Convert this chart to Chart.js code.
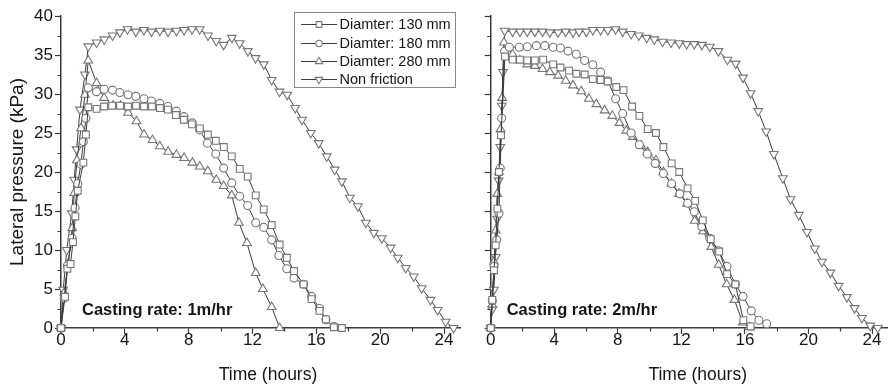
<!DOCTYPE html>
<html><head><meta charset="utf-8">
<script src="https://cdn.jsdelivr.net/npm/chart.js@4.4.1/dist/chart.umd.min.js"></script>
<style>
html,body{margin:0;padding:0;background:#fff;}
#wrap{position:relative;width:894px;height:387px;overflow:hidden;background:#fff;}
canvas{position:absolute;top:0;}
#c1{left:0;width:475px;height:387px;}
#c2{left:475px;width:419px;height:387px;}
</style></head><body>
<div id="wrap"><canvas id="c1" width="475" height="387"></canvas><canvas id="c2" width="419" height="387"></canvas></div>
<script>
// ---- tick labels ----
const xTicks = [0, 4, 8, 12, 16, 20, 24];
const xMinor = [2, 6, 10, 14, 18, 22];
const yTicks = [0, 5, 10, 15, 20, 25, 30, 35, 40];
const yMinor = [2.5, 7.5, 12.5, 17.5, 22.5, 27.5, 32.5, 37.5];
const seriesNames = ['Diamter: 130 mm', 'Diamter: 180 mm', 'Diamter: 280 mm', 'Non friction'];
const panelLabels = ['Casting rate: 1m/hr', 'Casting rate: 2m/hr'];

// ---- Casting rate 1 m/hr ----
const L130_t = [0,0.25,0.4,0.6,0.75,0.9,1.05,1.4,1.56,1.71,2.23,2.7,3.2,3.7,4.2,4.7,5.2,5.7,6.2,6.7,7.2,7.7,8.2,8.7,9.2,9.7,10.2,10.7,11.2,11.7,12.2,12.7,13.2,13.7,14.15,14.6,15.2,15.7,16.2,16.6,17.1,17.6];
const L130_p = [0,4,7.6,8.2,11,14.3,17.6,21.2,24.8,28.3,28.1,28.4,28.5,28.5,28.4,28.5,28.4,28.4,28.2,28.0,27.3,26.7,26.1,25.6,24.8,24.0,23.2,22.0,20.4,19.4,17.0,15.2,13.2,10.7,9.0,7.3,5.6,3.7,2.2,1.1,0.1,0];
const L180_t = [0,0.2,0.4,0.7,0.88,1.05,1.25,1.4,1.56,1.71,2.23,2.7,3.23,3.69,4.2,4.69,5.2,5.67,6.19,6.7,7.23,7.71,8.23,8.69,9.17,9.7,10.19,10.7,11.2,11.7,12.2,12.7,13.2,13.65,14.15,14.6,15.2,15.7,16.2,16.6,17.1];
const L180_p = [0,3.8,8,11.5,15.4,18.5,21,23.9,26.9,30.8,30.3,30.6,30.5,30.2,29.9,29.7,29.4,29.1,28.8,28.4,27.8,27.1,26.3,25.4,23.7,22.3,20.5,18.6,16.9,15.7,13.5,12.9,11.3,9.3,7.6,6.4,5.6,4.05,2.5,1.06,0.2];
const L280_t = [0,0.2,0.46,0.7,0.83,1.0,1.25,1.5,1.71,2.23,2.7,3.27,3.73,4.2,4.73,5.2,5.73,6.19,6.71,7.23,7.71,8.23,8.69,9.2,9.73,10.19,10.7,11.15,11.65,12.2,12.65,13.2,13.7];
const L280_p = [0,4.5,8.3,12.8,17.3,21.5,25.6,29.9,34.3,31.4,29.5,28.5,28.5,27.6,26.5,24.8,24.1,23.3,22.6,22.2,21.8,21.2,20.7,20.1,19.0,18.2,17.0,13.5,10.9,7.05,5.0,2.7,0];
const LNF_t = [0,0.14,0.36,0.67,0.83,0.98,1.19,1.5,1.71,2.23,2.71,3.23,3.69,4.17,4.69,5.19,5.67,6.19,6.71,7.23,7.71,8.21,8.69,9.21,9.73,10.19,10.71,11.19,11.71,12.19,12.71,13.2,13.69,14.17,14.67,15.1,15.65,16.15,16.65,17.15,17.6,18.1,18.6,19.1,19.6,20.1,20.65,21.1,21.6,22.1,22.6,23.15,23.6,24.1,24.6];
const LNF_p = [0,4.9,10,14.7,19,22.9,28,32.5,36.1,36.6,37.0,37.5,37.9,38.3,38.0,38.2,38.0,38.1,38.0,38.1,38.2,38.3,38.3,37.5,36.8,36.3,37.2,36.5,35.5,34.6,33.8,31.8,30.3,29.9,28.2,26.7,25.0,23.7,22.0,20.3,18.8,16.7,15.6,13.5,12.2,11.5,10.3,9.0,7.7,6.6,5.1,3.6,2.3,0.8,0];

// ---- Casting rate 2 m/hr ----
const R130_t = [0,0.1,0.21,0.31,0.42,0.52,0.65,0.9,1.38,1.84,2.3,2.78,3.3,3.93,4.39,4.93,5.39,5.91,6.43,6.92,7.37,7.9,8.36,8.9,9.36,9.88,10.4,10.87,11.39,11.87,12.39,12.87,13.35,13.85,14.38,14.88,15.4,15.9,16.36];
const R130_p = [0,3.6,7.4,10.6,15.3,20,24.7,34.8,34.4,34.4,34.3,34.3,34.4,33.8,33.4,33.0,32.6,32.5,31.9,31.8,31.6,30.9,30.5,28.4,27.2,25.5,25.0,23.2,21.1,20.0,17.9,16.3,13.8,11.4,9.8,6.9,5.6,1.0,0.2];
const R180_t = [0,0.1,0.21,0.38,0.52,0.6,0.69,0.88,1.17,1.8,2.3,2.88,3.4,3.93,4.39,4.87,5.39,5.91,6.43,6.92,7.37,7.86,8.31,8.84,9.36,9.85,10.35,10.87,11.39,11.91,12.4,12.81,13.29,13.79,14.33,14.87,15.4,15.88,16.4,16.88,17.37];
const R180_p = [0,3.5,7.9,11.3,14.7,20.5,26.9,35.5,36.0,36.0,36.05,36.2,36.2,36.0,35.9,35.5,35.1,34.3,33.75,32.8,31.7,29.4,27.5,25.0,23.5,22.3,21.1,19.8,18.5,17.2,16.0,14.9,13.0,11.5,9.9,7.9,5.6,4.05,2.2,1.0,0.55];
const R280_t = [0,0.1,0.21,0.31,0.41,0.52,0.62,0.72,0.83,1.38,1.84,2.3,2.78,3.26,3.72,4.24,4.72,5.18,5.7,6.18,6.65,7.17,7.65,8.1,8.53,8.94,9.47,9.88,10.4,10.87,11.38,11.85,12.36,12.84,13.37,13.88,14.35,14.85,15.34,15.86,16.3];
const R280_p = [0,3,8.5,12.5,17.2,20,25.5,29.5,36.6,35.1,34.3,33.8,33.6,33.2,32.8,32.35,31.7,31.1,30.35,29.4,28.7,27.9,27.2,26.3,25.3,24.5,23.4,22.55,21.5,20.0,18.5,17.2,15.95,13.75,12.4,10.4,8.1,5.6,3.6,0.7,0.1];
const RNF_t = [0,0.1,0.2,0.31,0.41,0.5,0.6,0.7,0.77,0.88,1.38,1.84,2.3,2.78,3.26,3.72,4.24,4.72,5.18,5.56,6.02,6.43,6.92,7.37,7.86,8.31,8.84,9.32,9.82,10.3,10.82,11.35,11.87,12.33,12.81,13.29,13.79,14.33,14.9,15.42,15.88,16.36,16.84,17.34,17.82,18.39,18.87,19.39,19.91,20.4,20.85,21.38,21.9,22.42,22.9,23.36,23.89,24.36];
const RNF_p = [0,2.4,4.9,9.1,14,18.9,23.2,28.5,32.8,38.1,38.0,38.0,38.0,38.0,38.0,37.9,37.9,38.0,37.9,38.0,38.0,38.2,38.2,38.2,38.3,38.0,37.7,37.5,37.2,37.0,36.7,36.6,36.5,36.4,36.4,36.3,36.05,35.5,34.4,33.9,32.1,30.1,27.8,25.2,22.3,19.2,16.5,14.5,12.3,10.2,8.5,7.1,5.4,3.96,2.55,1.28,0.3,0];

// ---- styles ----
const FONT = "'Liberation Sans', Arial, Helvetica, sans-serif";
const AXIS = '#3a3a3a';
const LINE = '#3c3c3c';
const MARK = '#767676';
const TEXT = '#151515';
const markers = [
  {pointStyle: 'rect', radius: 4.8, rotation: 0},
  {pointStyle: 'circle', radius: 4, rotation: 0},
  {pointStyle: 'triangle', radius: 5, rotation: 0},
  {pointStyle: 'triangle', radius: 5, rotation: 180}
];

function pts(t, p) { return t.map((v, i) => ({x: v, y: p[i]})); }

function makeDatasets(list) {
  return list.map((d, i) => ({
    label: seriesNames[i],
    data: pts(d[0], d[1]),
    borderColor: LINE,
    borderWidth: 1,
    pointStyle: markers[i].pointStyle,
    pointRadius: markers[i].radius,
    pointRotation: markers[i].rotation,
    pointBorderColor: MARK,
    pointBackgroundColor: '#ffffff',
    pointBorderWidth: 1.1,
    tension: 0,
    fill: false,
    clip: false
  }));
}

function drawMarker(ctx, m, x, y) {
  ctx.save();
  ctx.fillStyle = '#ffffff';
  ctx.strokeStyle = MARK;
  ctx.lineWidth = 1.1;
  if (Chart.helpers && Chart.helpers.drawPoint) {
    Chart.helpers.drawPoint(ctx, {pointStyle: m.pointStyle, rotation: m.rotation, radius: m.radius, borderWidth: 1.1}, x, y);
  }
  ctx.restore();
}

const minorTicks = {
  id: 'minorTicks',
  afterDraw(chart) {
    const ctx = chart.ctx, ca = chart.chartArea;
    const xs = chart.scales.x, ys = chart.scales.y;
    ctx.save();
    ctx.strokeStyle = AXIS;
    ctx.lineWidth = 1.2;
    ctx.beginPath();
    xMinor.forEach(v => { const px = Math.round(xs.getPixelForValue(v)) + 0.5; ctx.moveTo(px, ca.bottom); ctx.lineTo(px, ca.bottom + 3.5); });
    yMinor.forEach(v => { const py = Math.round(ys.getPixelForValue(v)) + 0.5; ctx.moveTo(ca.left, py); ctx.lineTo(ca.left - 3.5, py); });
    ctx.stroke();
    ctx.restore();
  }
};

const panelText = {
  id: 'panelText',
  afterDraw(chart, args, opts) {
    const ctx = chart.ctx, ca = chart.chartArea;
    ctx.save();
    ctx.fillStyle = TEXT;
    ctx.textBaseline = 'alphabetic';
    ctx.textAlign = 'left';
    ctx.font = 'bold 16.5px ' + FONT;
    ctx.fillText(opts.label, ca.left + opts.labelDx, 315);
    ctx.font = '17.5px ' + FONT;
    ctx.textAlign = 'center';
    ctx.textBaseline = 'middle';
    ctx.fillText('Time (hours)', ca.left + 207, 375);
    if (opts.legend) {
      const bx = 294, by = 12, bw = 161, bh = 75;
      ctx.strokeStyle = '#8a8a8a';
      ctx.lineWidth = 1;
      ctx.strokeRect(bx + 0.5, by + 0.5, bw, bh);
      ctx.font = '14.5px ' + FONT;
      ctx.textAlign = 'left';
      ctx.textBaseline = 'middle';
      const rows = [24, 43, 61, 79];
      seriesNames.forEach((n, i) => {
        const y = rows[i];
        ctx.strokeStyle = LINE; ctx.lineWidth = 1;
        ctx.beginPath(); ctx.moveTo(301, y + 0.5); ctx.lineTo(337, y + 0.5); ctx.stroke();
        drawMarker(ctx, {pointStyle: markers[i].pointStyle, rotation: markers[i].rotation, radius: markers[i].radius - 0.8}, 319, y + 0.5);
        ctx.fillStyle = TEXT;
        ctx.fillText(n, 339.5, y + 1);
      });
    }
    ctx.restore();
  }
};

function makeChart(canvas, datasets, cfg) {
  return new Chart(canvas, {
    type: 'line',
    data: {datasets: datasets},
    plugins: [minorTicks, panelText],
    options: {
      responsive: false,
      animation: false,
      devicePixelRatio: 1,
      layout: {padding: {left: 0, right: cfg.padRight, top: 16, bottom: 0}},
      plugins: {
        legend: {display: false},
        tooltip: {enabled: false},
        panelText: {label: cfg.label, labelDx: cfg.labelDx, legend: cfg.legend}
      },
      scales: {
        x: {
          type: 'linear', min: 0, max: 25,
          afterBuildTicks: s => { s.ticks = xTicks.map(v => ({value: v})); },
          afterFit: s => { s.height = 59; },
          ticks: {color: TEXT, font: {family: FONT, size: 17, lineHeight: 1}, padding: -2, maxRotation: 0, autoSkip: false},
          grid: {display: true, drawOnChartArea: false, drawTicks: true, tickLength: 6, tickColor: AXIS, tickWidth: 1.2},
          border: {display: true, color: AXIS, width: 1.5},
          title: {display: false}
        },
        y: {
          type: 'linear', min: 0, max: 40,
          afterBuildTicks: s => { s.ticks = yTicks.map(v => ({value: v})); },
          afterFit: s => { s.width = cfg.yWidth; },
          ticks: {display: cfg.yLabels, color: TEXT, font: {family: FONT, size: 17}, padding: 2, autoSkip: false},
          grid: {display: true, drawOnChartArea: false, drawTicks: true, tickLength: 6, tickColor: AXIS, tickWidth: 1.2},
          border: {display: true, color: AXIS, width: 1.5},
          title: {display: cfg.yLabels, text: 'Lateral pressure (kPa)', color: TEXT, font: {family: FONT, size: 19}, padding: {top: 6, bottom: 0}}
        }
      }
    }
  });
}

makeChart(document.getElementById('c1'),
  makeDatasets([[L130_t, L130_p], [L180_t, L180_p], [L280_t, L280_p], [LNF_t, LNF_p]]),
  {padRight: 15, yWidth: 61, yLabels: true, label: panelLabels[0], labelDx: 21, legend: true});

makeChart(document.getElementById('c2'),
  makeDatasets([[R130_t, R130_p], [R180_t, R180_p], [R280_t, R280_p], [RNF_t, RNF_p]]),
  {padRight: 4.5, yWidth: 15.7, yLabels: false, label: panelLabels[1], labelDx: 16, legend: false});
</script>
</body></html>
